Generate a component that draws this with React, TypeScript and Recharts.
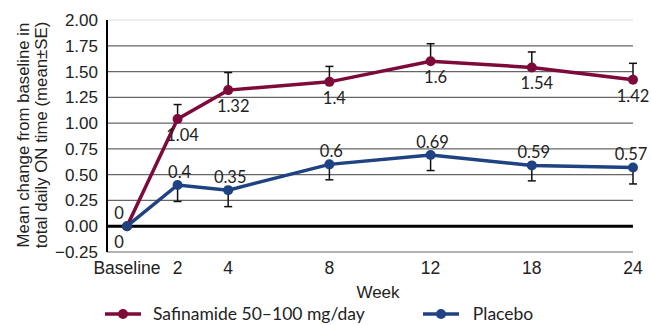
import React from 'react';
import { LineChart, Line, XAxis, YAxis, ReferenceLine, ErrorBar, LabelList } from 'recharts';

// x positions are ordinal slots: baseline, 2, 4 close together, then evenly spaced
const weekPos = [0, 1, 2, 4, 6, 8, 10];
const weekLabels = ['Baseline', '2', '4', '8', '12', '18', '24'];

const safinamide = [0, 1.04, 1.32, 1.4, 1.6, 1.54, 1.42];
const safinamideSE = [0, 0.14, 0.17, 0.15, 0.17, 0.15, 0.16];
const placebo = [0, 0.4, 0.35, 0.6, 0.69, 0.59, 0.57];
const placeboSE = [0, 0.16, 0.16, 0.15, 0.15, 0.15, 0.16];

const yTicks = [-0.25, 0, 0.25, 0.5, 0.75, 1, 1.25, 1.5, 1.75, 2];

const SAF = '#7d0a3a';
const PBO = '#1f4282';

const data = weekPos.map((pos, i) => ({
  pos,
  saf: safinamide[i],
  safErr: [0, safinamideSE[i]],
  pbo: placebo[i],
  pboErr: [placeboSE[i], 0],
}));

const labelFont = 'Lato, "Noto Sans", sans-serif';
const axisFont = '"Liberation Sans", Arial, sans-serif';

const BelowLabel = (props: any) => {
  const { x, y, value, index } = props;
  const dx = index === 0 ? -8 : index === safinamide.length - 1 ? 0 : 5;
  return (
    <text x={x + dx} y={y + 16} textAnchor="middle" dominantBaseline="central"
      fontFamily={labelFont} fontSize={16.5} fill="#222">
      {value}
    </text>
  );
};

const AboveLabel = (props: any) => {
  const { x, y, value, index } = props;
  const dx = index === 0 ? -8 : index === placebo.length - 1 ? -2 : 2;
  return (
    <text x={x + dx} y={y - 13} textAnchor="middle" dominantBaseline="central"
      fontFamily={labelFont} fontSize={16.5} fill="#222">
      {value}
    </text>
  );
};

const YLabel = () => {
  const cy = 135;
  return (
    <g transform={`rotate(-90, 32, ${cy})`} fontFamily={axisFont} fontSize={16.8} fill="#222">
      <text x={32} y={cy - 9} textAnchor="middle" dominantBaseline="central">Mean change from baseline in</text>
      <text x={32} y={cy + 9} textAnchor="middle" dominantBaseline="central">total daily ON time (mean±SE)</text>
    </g>
  );
};

const LegendIcon = ({ color }: { color: string }) => (
  <svg width={36} height={12} style={{ display: 'block' }}>
    <line x1={0} y1={6} x2={36} y2={6} stroke={color} strokeWidth={3.5} />
    <circle cx={18} cy={6} r={5} fill={color} />
  </svg>
);

export default function App() {
  return (
    <div style={{ position: 'absolute', left: 0, top: 0, width: 651, height: 325, background: '#fff', overflow: 'hidden' }}>
      <LineChart width={651} height={325} data={data} margin={{ top: 20, right: 18, bottom: 0, left: 0 }}>
        {yTicks.map((t) => (
          <ReferenceLine key={t} y={t} stroke={t === 2 ? '#ddd' : t === 0 ? '#000' : '#666'}
            strokeWidth={t === 0 ? 3 : 1.2} />
        ))}
        <XAxis
          dataKey="pos"
          type="number"
          domain={[-0.395, 10]}
          ticks={weekPos}
          tickFormatter={(v: number) => weekLabels[weekPos.indexOf(v)]}
          axisLine={false}
          tickLine={false}
          tickSize={0}
          tickMargin={10}
          height={73}
          tick={{ fontFamily: axisFont, fontSize: 17.5, fill: '#222' }}
          label={{ value: 'Week', position: 'insideBottom', offset: 27, dx: 8, fontFamily: axisFont, fontSize: 17, fill: '#222' }}
        />
        <YAxis
          type="number"
          domain={[-0.25, 2]}
          ticks={yTicks}
          interval={0}
          width={107}
          allowDataOverflow
          axisLine={{ stroke: '#000', strokeWidth: 2 }}
          tickLine={false}
          tickSize={0}
          tickMargin={9}
          tickFormatter={(v: number) => (v < 0 ? '\u2212' + Math.abs(v).toFixed(2) : v.toFixed(2))}
          tick={{ fontFamily: axisFont, fontSize: 17, fill: '#222' }}
          label={<YLabel />}
        />
        <Line dataKey="saf" stroke={SAF} strokeWidth={3.5} dot={{ r: 5, fill: SAF, stroke: SAF, strokeWidth: 0 }}
          isAnimationActive={false}>
          <ErrorBar dataKey="safErr" direction="y" width={4} stroke="#111" strokeWidth={1.5} />
          <LabelList dataKey="saf" content={<BelowLabel />} />
        </Line>
        <Line dataKey="pbo" stroke={PBO} strokeWidth={3.5} dot={{ r: 5, fill: PBO, stroke: PBO, strokeWidth: 0 }}
          isAnimationActive={false}>
          <ErrorBar dataKey="pboErr" direction="y" width={4} stroke="#111" strokeWidth={1.5} />
          <LabelList dataKey="pbo" content={<AboveLabel />} />
        </Line>
      </LineChart>
      <div style={{ position: 'absolute', top: 303, left: 105, display: 'flex', alignItems: 'center',
        fontFamily: labelFont, fontSize: 17.5, color: '#222', whiteSpace: 'nowrap' }}>
        <LegendIcon color={SAF} />
        <span style={{ marginLeft: 12 }}>Safinamide 50–100 mg/day</span>
        <span style={{ width: 58 }} />
        <LegendIcon color={PBO} />
        <span style={{ marginLeft: 14 }}>Placebo</span>
      </div>
    </div>
  );
}
